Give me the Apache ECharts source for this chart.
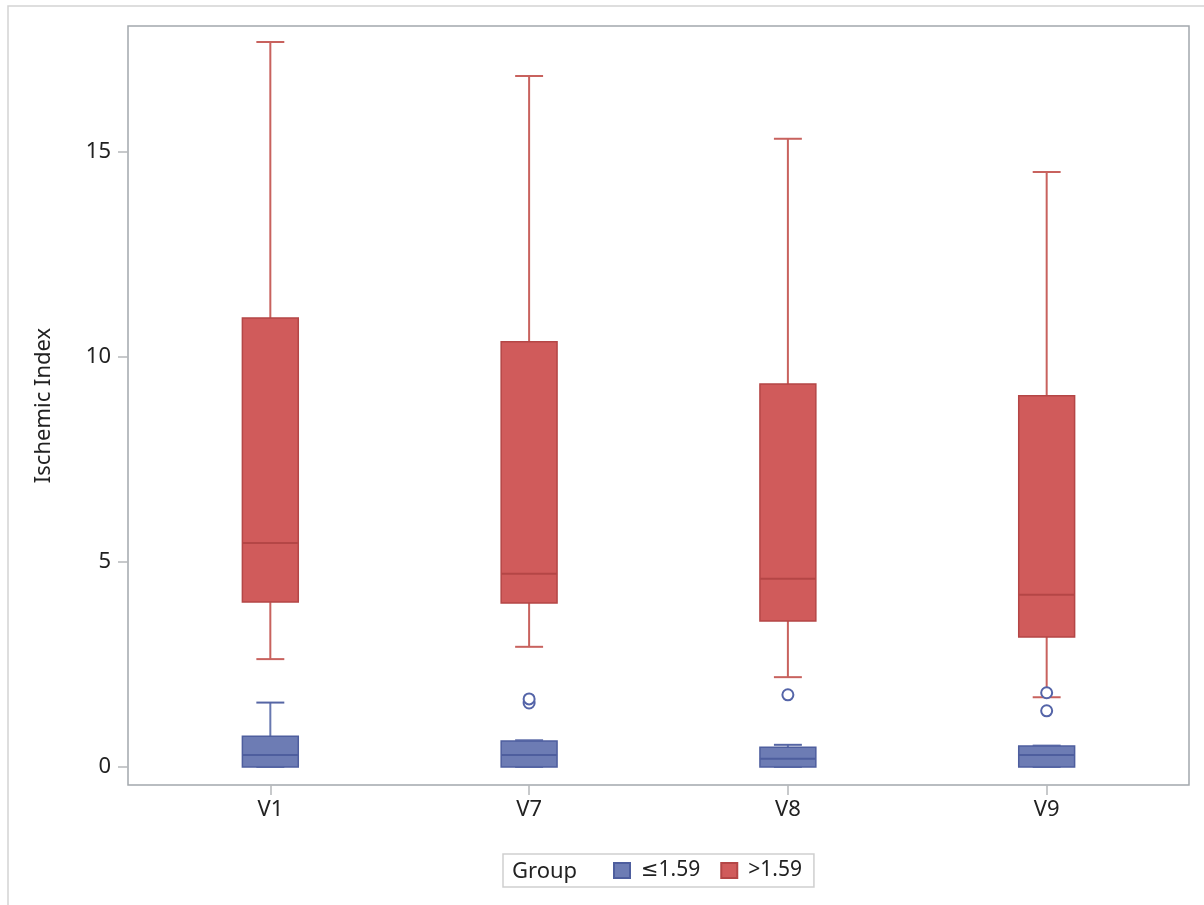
<!DOCTYPE html>
<html>
<head>
<meta charset="utf-8">
<script src="https://cdn.jsdelivr.net/npm/echarts@6/dist/echarts.min.js"></script>
<style>
  html, body { margin: 0; padding: 0; background: #fff; }
  #chart { width: 1204px; height: 905px; }
</style>
</head>
<body>
<div id="chart"></div>
<script>
// categories along x
var categories = ['V1', 'V7', 'V8', 'V9'];
// [min, q1, median, q3, max] per visit
var highBox = [
  [2.63, 4.02, 5.46, 10.95, 17.68],
  [2.93, 4.00, 4.71, 10.37, 16.85],
  [2.19, 3.56, 4.59, 9.34, 15.32],
  [1.70, 3.17, 4.20, 9.05, 14.51]
];
var lowBox = [
  [0, 0, 0.29, 0.75, 1.57],
  [0, 0, 0.29, 0.63, 0.65],
  [0, 0, 0.20, 0.48, 0.54],
  [0, 0, 0.29, 0.51, 0.52]
];
// outliers of the low group: [category index, value]
var lowOutliers = [[1, 1.56], [1, 1.66], [2, 1.76], [3, 1.81], [3, 1.37]];
var yTicks = [0, 5, 10, 15];
var groupNames = ['\u22641.59', '>1.59'];

var BOX_W = 0.216;   // box width in category units
var FONT = '"Noto Sans", "DejaVu Sans", sans-serif';
var FS = 22;

function toItems(arr) {
  return arr.map(function (d, i) { return [i].concat(d); });
}

function boxRenderer(sty) {
  return function (params, api) {
    var x = api.value(0);
    var pMin = api.coord([x, api.value(1)]);
    var pQ1 = api.coord([x, api.value(2)]);
    var pMed = api.coord([x, api.value(3)]);
    var pQ3 = api.coord([x, api.value(4)]);
    var pMax = api.coord([x, api.value(5)]);
    var half = api.size([BOX_W, 0])[0] / 2;
    var cap = half / 2;
    var cx = pQ1[0];
    var ln = { stroke: sty.whisker, lineWidth: 2 };
    return {
      type: 'group',
      children: [
        { type: 'line', shape: { x1: cx, y1: pQ3[1], x2: cx, y2: pMax[1] }, style: ln },
        { type: 'line', shape: { x1: cx, y1: pMin[1], x2: cx, y2: pQ1[1] }, style: ln },
        { type: 'rect', shape: { x: cx - half, y: pQ3[1], width: half * 2, height: pQ1[1] - pQ3[1] },
          style: { fill: sty.fill, stroke: sty.edge, lineWidth: 1.5 } },
        { type: 'line', shape: { x1: cx - half, y1: pMed[1], x2: cx + half, y2: pMed[1] },
          style: { stroke: sty.edge, lineWidth: 2 } },
        { type: 'line', shape: { x1: cx - cap, y1: pMax[1], x2: cx + cap, y2: pMax[1] },
          style: { stroke: sty.cap, lineWidth: 2 } },
        { type: 'line', shape: { x1: cx - cap, y1: pMin[1], x2: cx + cap, y2: pMin[1] },
          style: { stroke: sty.cap, lineWidth: 2 } }
      ]
    };
  };
}

var redSty = { fill: '#D05B5B', edge: '#B44646', whisker: '#C8625E', cap: '#C8625E' };
var blueSty = { fill: '#6D7CB4', edge: '#4E5E9E', whisker: '#6878B0', cap: '#5565A4' };

var chart = echarts.init(document.getElementById('chart'));
chart.setOption({
  animation: false,
  backgroundColor: '#fff',
  graphic: [
    { type: 'rect', shape: { x: 8, y: 6, width: 1300, height: 1000 },
      style: { fill: 'none', stroke: '#D3D3D3', lineWidth: 1.5 }, silent: true },
    { type: 'text', x: 512, y: 872, z: 100,
      style: { text: 'Group', font: FS + 'px ' + FONT, fill: '#222', verticalAlign: 'middle' } }
  ],
  grid: {
    left: 128, right: 15, top: 26, bottom: 120,
    show: true, borderColor: '#A3A8AD', borderWidth: 1.5, backgroundColor: '#fff'
  },
  legend: {
    data: groupNames,
    left: 503, top: 854,
    padding: [6, 12, 6, 110],
    itemWidth: 16, itemHeight: 15, itemGap: 20,
    icon: 'rect',
    borderColor: '#CFCFCF', borderWidth: 1.5,
    textStyle: { fontFamily: FONT, fontSize: 21, color: '#222', padding: [0, 0, 0, 6] },
    selectedMode: false
  },
  xAxis: {
    type: 'value', min: -0.55, max: 3.55,
    splitLine: { show: false },
    axisLine: { show: false, onZero: false },
    axisTick: { show: true, length: 10, customValues: [0, 1, 2, 3], lineStyle: { color: '#B5B8BB', width: 1.5 } },
    axisLabel: {
      customValues: [0, 1, 2, 3], margin: 14,
      formatter: function (v) { return categories[Math.round(v)]; },
      fontFamily: FONT, fontSize: FS, color: '#222'
    }
  },
  yAxis: {
    type: 'value', min: -0.44, max: 18.07,
    name: 'Ischemic Index', nameLocation: 'middle', nameGap: 73,
    nameTextStyle: { fontFamily: FONT, fontSize: FS, color: '#222' },
    splitLine: { show: false },
    axisLine: { show: false, onZero: false },
    axisTick: { show: true, length: 10, customValues: yTicks, lineStyle: { color: '#B5B8BB', width: 1.5 } },
    axisLabel: {
      customValues: yTicks, margin: 17,
      fontFamily: FONT, fontSize: FS, color: '#222'
    }
  },
  series: [
    {
      name: groupNames[1], type: 'custom',
      itemStyle: { color: redSty.fill, borderColor: redSty.edge, borderWidth: 1 },
      encode: { x: 0, y: [1, 2, 3, 4, 5] },
      renderItem: boxRenderer(redSty),
      data: toItems(highBox), z: 2
    },
    {
      name: groupNames[0], type: 'custom',
      itemStyle: { color: blueSty.fill, borderColor: blueSty.edge, borderWidth: 1 },
      encode: { x: 0, y: [1, 2, 3, 4, 5] },
      renderItem: boxRenderer(blueSty),
      data: toItems(lowBox), z: 3
    },
    {
      name: 'outliers', type: 'scatter',
      symbol: 'circle', symbolSize: 11,
      itemStyle: { color: '#fff', borderColor: '#5464A8', borderWidth: 2, opacity: 1 },
      data: lowOutliers, z: 4
    }
  ]
});
</script>
</body>
</html>
